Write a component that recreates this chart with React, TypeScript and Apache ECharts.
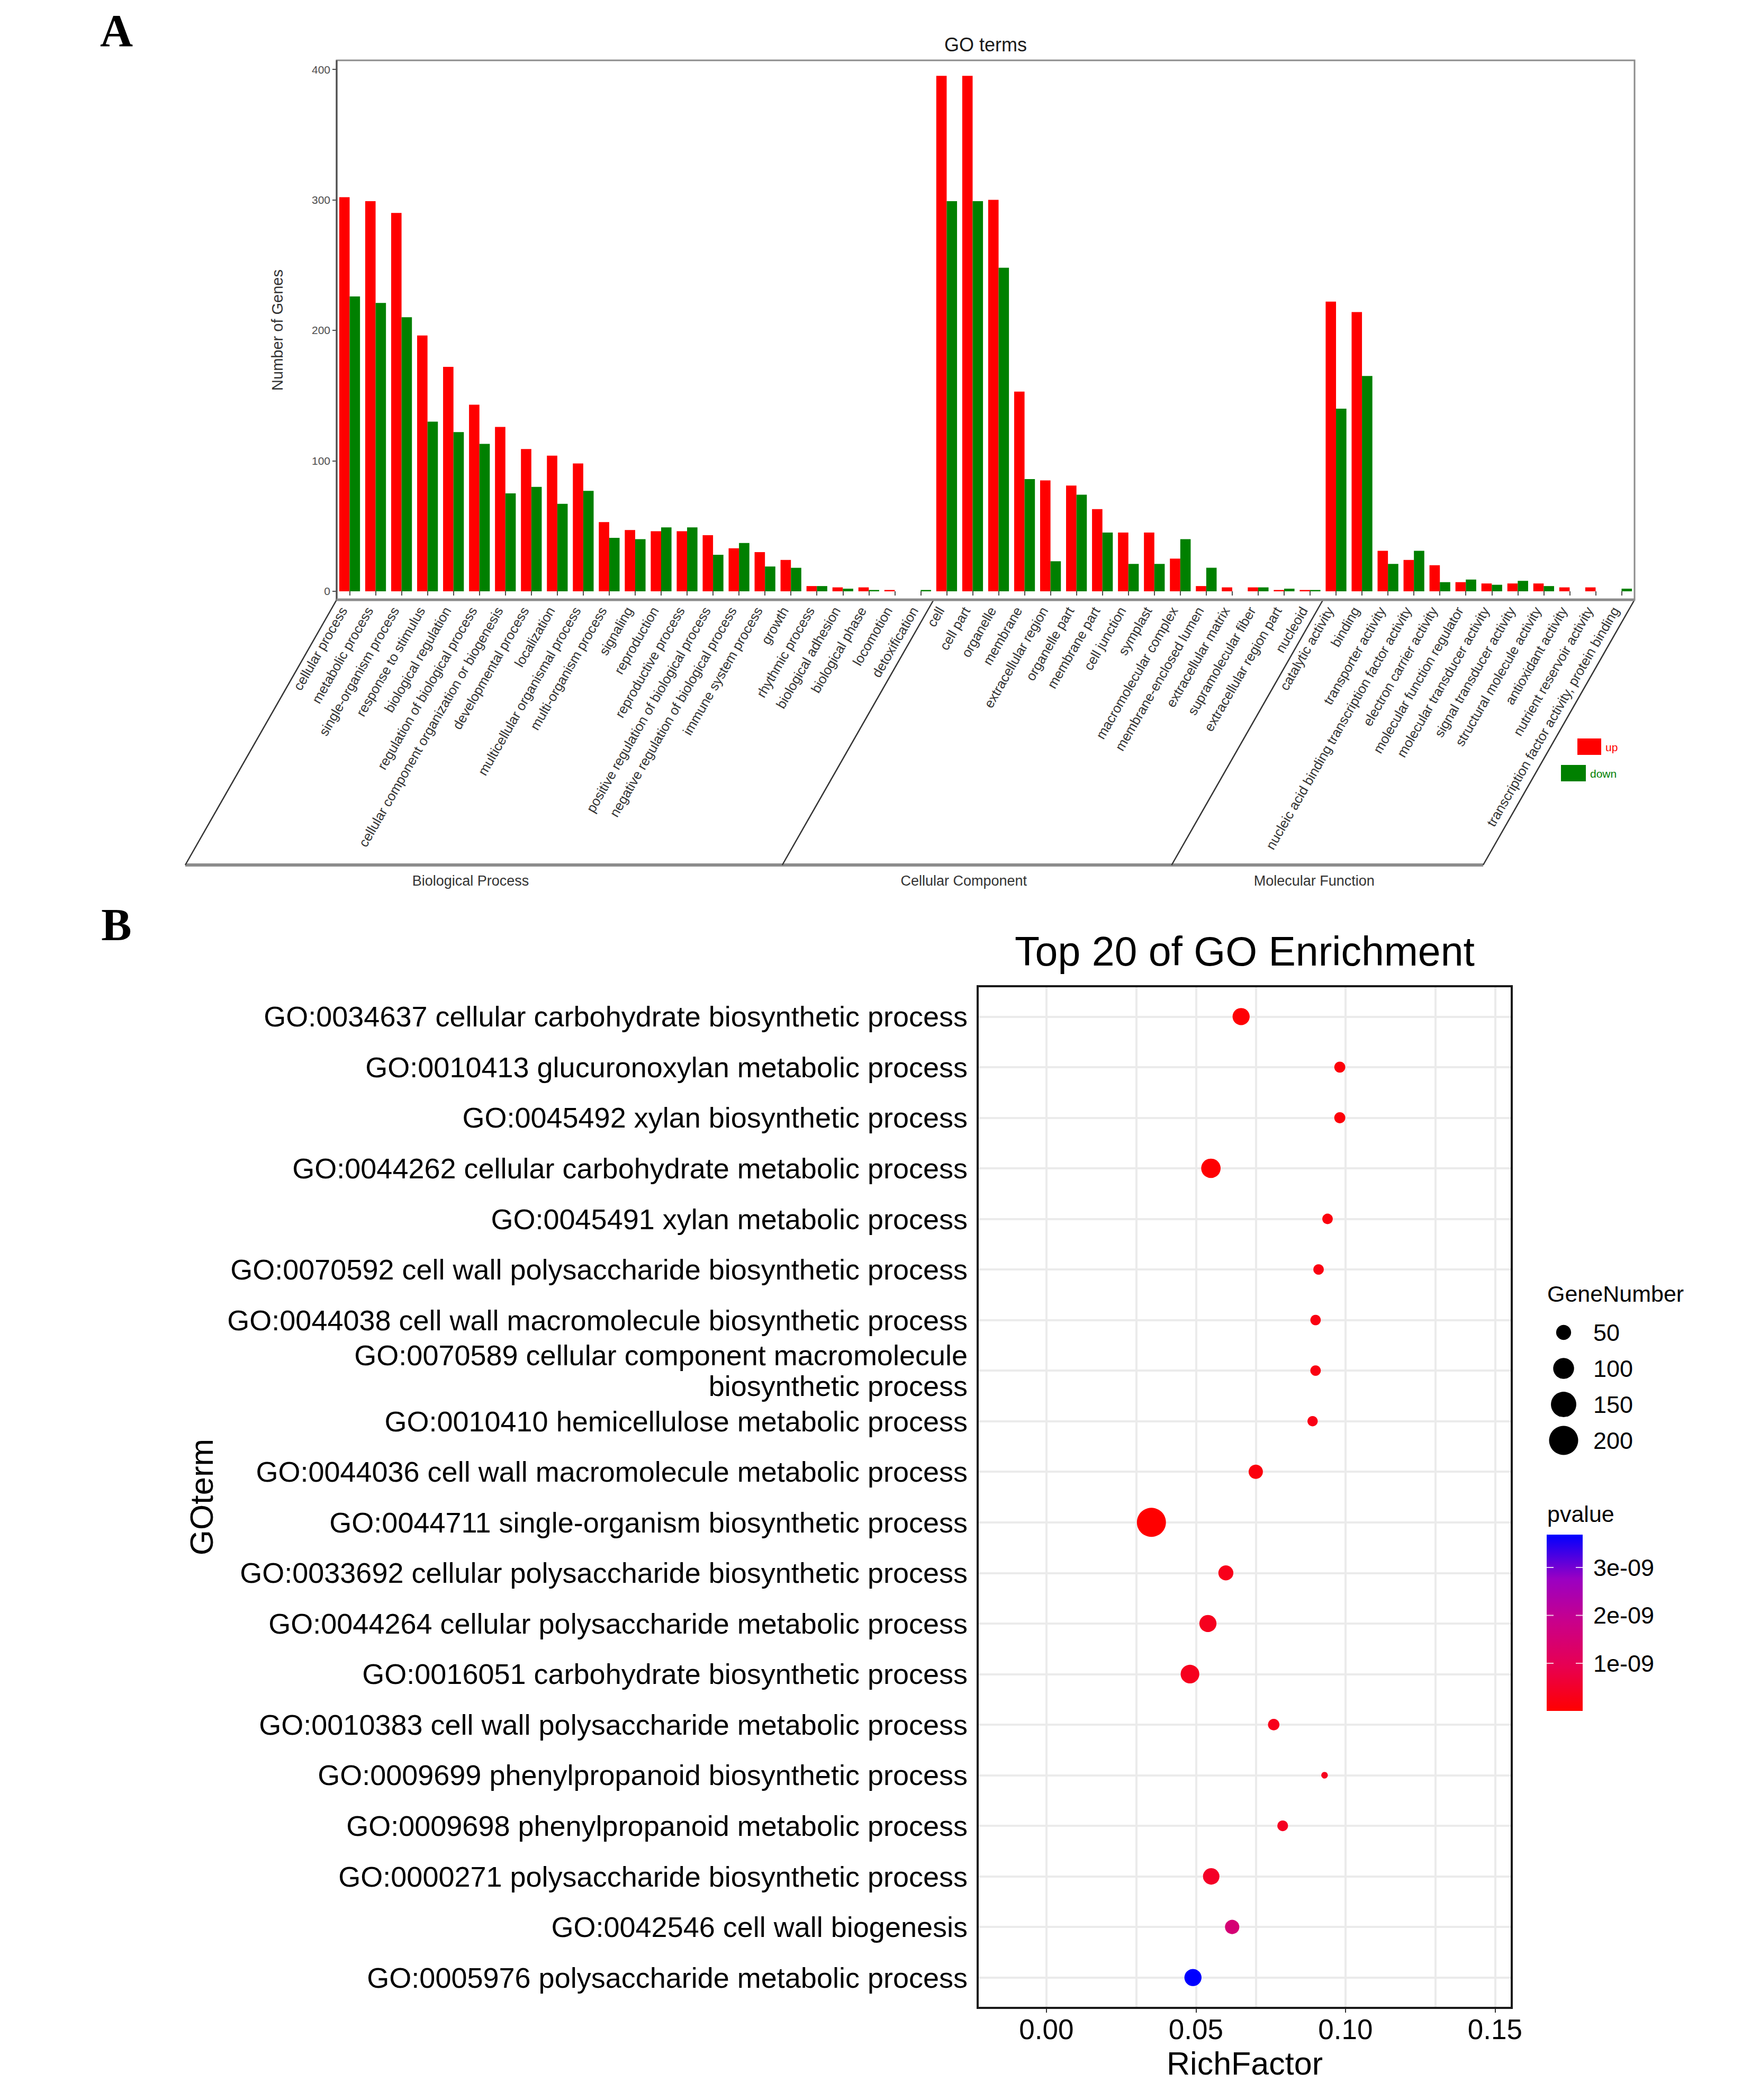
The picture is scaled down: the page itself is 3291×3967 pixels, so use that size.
import React, { useEffect, useRef } from "react";
import * as echarts from "echarts";

// ---------- panel A: GO classification ----------
const bpTerms = [
  "cellular process",
  "metabolic process",
  "single-organism process",
  "response to stimulus",
  "biological regulation",
  "regulation of biological process",
  "cellular component organization or biogenesis",
  "developmental process",
  "localization",
  "multicellular organismal process",
  "multi-organism process",
  "signaling",
  "reproduction",
  "reproductive process",
  "positive regulation of biological process",
  "negative regulation of biological process",
  "immune system process",
  "growth",
  "rhythmic process",
  "biological adhesion",
  "biological phase",
  "locomotion",
  "detoxification",
];
const bpUp = [302, 299, 290, 196, 172, 143, 126, 109, 104, 98, 53, 47, 46, 46, 43, 33, 30, 24, 4, 3, 3, 1, 0];
const bpDown = [226, 221, 210, 130, 122, 113, 75, 80, 67, 77, 41, 40, 49, 49, 28, 37, 19, 18, 4, 2, 1, 0, 1];

const ccTerms = [
  "cell",
  "cell part",
  "organelle",
  "membrane",
  "extracellular region",
  "organelle part",
  "membrane part",
  "cell junction",
  "symplast",
  "macromolecular complex",
  "membrane-enclosed lumen",
  "extracellular matrix",
  "supramolecular fiber",
  "extracellular region part",
  "nucleoid",
];
const ccUp = [395, 395, 300, 153, 85, 81, 63, 45, 45, 25, 4, 3, 3, 1, 1];
const ccDown = [299, 299, 248, 86, 23, 74, 45, 21, 21, 40, 18, 0, 3, 2, 1];

const mfTerms = [
  "catalytic activity",
  "binding",
  "transporter activity",
  "nucleic acid binding transcription factor activity",
  "electron carrier activity",
  "molecular function regulator",
  "molecular transducer activity",
  "signal transducer activity",
  "structural molecule activity",
  "antioxidant activity",
  "nutrient reservoir activity",
  "transcription factor activity, protein binding",
];
const mfUp = [222, 214, 31, 24, 20, 7, 6, 6, 6, 3, 3, 0];
const mfDown = [140, 165, 21, 31, 7, 9, 5, 8, 4, 0, 0, 2];

const groupNames = ["Biological Process", "Cellular Component", "Molecular Function"];
const countTicks = [0, 100, 200, 300, 400];

// ---------- panel B: top 20 enrichment ----------
const goTerms = [
  "GO:0034637 cellular carbohydrate biosynthetic process",
  "GO:0010413 glucuronoxylan metabolic process",
  "GO:0045492 xylan biosynthetic process",
  "GO:0044262 cellular carbohydrate metabolic process",
  "GO:0045491 xylan metabolic process",
  "GO:0070592 cell wall polysaccharide biosynthetic process",
  "GO:0044038 cell wall macromolecule biosynthetic process",
  "GO:0070589 cellular component macromolecule\nbiosynthetic process",
  "GO:0010410 hemicellulose metabolic process",
  "GO:0044036 cell wall macromolecule metabolic process",
  "GO:0044711 single-organism biosynthetic process",
  "GO:0033692 cellular polysaccharide biosynthetic process",
  "GO:0044264 cellular polysaccharide metabolic process",
  "GO:0016051 carbohydrate biosynthetic process",
  "GO:0010383 cell wall polysaccharide metabolic process",
  "GO:0009699 phenylpropanoid biosynthetic process",
  "GO:0009698 phenylpropanoid metabolic process",
  "GO:0000271 polysaccharide biosynthetic process",
  "GO:0042546 cell wall biogenesis",
  "GO:0005976 polysaccharide metabolic process",
];
const richFactor = [
  0.0651, 0.0981, 0.0981, 0.055, 0.094, 0.091, 0.09, 0.09, 0.089, 0.07, 0.0351, 0.06, 0.054, 0.048, 0.076,
  0.093, 0.079, 0.0551, 0.0621, 0.049,
];
const geneNumber = [66, 26, 26, 86, 23, 23, 23, 23, 22, 45, 200, 50, 66, 79, 28, 8, 24, 61, 45, 66];
const pValue = [
  0.05e-9, 0.1e-9, 0.1e-9, 0.03e-9, 0.15e-9, 0.2e-9, 0.2e-9, 0.2e-9, 0.25e-9, 0.15e-9, 0.006e-9, 0.3e-9,
  0.35e-9, 0.35e-9, 0.3e-9, 0.35e-9, 0.4e-9, 0.45e-9, 1.5e-9, 3.685e-9,
];
const richTicks = [0, 0.05, 0.1, 0.15];
const richGrid = [0, 0.025, 0.05, 0.075, 0.1, 0.125, 0.15];
const sizeBreaks = [50, 100, 150, 200];
const pBreaks = [1e-9, 2e-9, 3e-9];

const W = 3291;
const H = 3967;
const SANS = '"Liberation Sans", Arial, Helvetica, sans-serif';
const SERIF = '"Liberation Serif", "DejaVu Serif", "Times New Roman", serif';
// red -> blue, interpolated in Lab like ggplot's gradient
const P_COLORS = ["#ff0000", "#e80050", "#ca0089", "#9a00c3", "#0000ff"];

const pointSize = (n: number) => 2 * (1.88 * Math.sqrt(n) + 0.9);

const App = () => {
  const chartRef = useRef<HTMLDivElement>(null);

  useEffect(() => {
    if (!chartRef.current) return;
    document.body.style.margin = "0";

    const chart = echarts.init(chartRef.current, null, { renderer: "svg" });

    const categories = [...bpTerms, ...ccTerms, ...mfTerms];
    const upValues = [...bpUp, ...ccUp, ...mfUp];
    const downValues = [...bpDown, ...ccDown, ...mfDown];

    // panel A box
    const aL = 636, aT = 114, aR = 3088, aB = 1133;
    const skewY = 1634, skewDx = 286;
    const catW = (aR - aL) / categories.length;
    const bounds = [0, bpTerms.length, bpTerms.length + ccTerms.length, categories.length];
    const edgeX = bounds.map((b) => aL + b * catW);

    // panel B box
    const bL = 1847, bT = 1863, bR = 2856, bB = 3793;

    const pMin = Math.min(...pValue);
    const pMax = Math.max(...pValue);
    const barTop = 2899, barBottom = 3232, barX = 2922, barW = 68;
    const pToY = (p: number) => barBottom - ((p - pMin) / (pMax - pMin)) * (barBottom - barTop);

    const graphics: any[] = [
      { type: "text", x: 220, y: 58, style: { text: "A", fontSize: 86, fontWeight: "bold", fontFamily: SERIF, fill: "#000", align: "center", verticalAlign: "middle" } },
      { type: "text", x: 220, y: 1747, style: { text: "B", fontSize: 86, fontWeight: "bold", fontFamily: SERIF, fill: "#000", align: "center", verticalAlign: "middle" } },
      { type: "text", x: (aL + aR) / 2, y: 84, style: { text: "GO terms", fontSize: 36, fontFamily: SANS, fill: "#1a1a1a", align: "center", verticalAlign: "middle" } },
      { type: "text", x: 524, y: (aT + aB) / 2, rotation: Math.PI / 2, style: { text: "Number of Genes", fontSize: 29, fontFamily: SANS, fill: "#333", align: "center", verticalAlign: "middle" } },
      { type: "rect", z: 50, shape: { x: aL, y: aT, width: aR - aL, height: aB - aT }, style: { fill: "none", stroke: "#8c8c8c", lineWidth: 3 } },
      { type: "line", z: 51, shape: { x1: aL, y1: aT, x2: aL, y2: aB }, style: { stroke: "#4d4d4d", lineWidth: 3 } },
      { type: "line", z: 51, shape: { x1: aL, y1: aB, x2: aR, y2: aB }, style: { stroke: "#8c8c8c", lineWidth: 5 } },
      { type: "line", shape: { x1: edgeX[0] - skewDx, y1: skewY, x2: edgeX[3] - skewDx, y2: skewY }, style: { stroke: "#8c8c8c", lineWidth: 6 } },
      ...edgeX.map((x) => ({ type: "line", shape: { x1: x, y1: aB, x2: x - skewDx, y2: skewY }, style: { stroke: "#333", lineWidth: 2.5 } })),
      ...groupNames.map((name, i) => ({
        type: "text",
        x: (edgeX[i] + edgeX[i + 1]) / 2 - skewDx - 25,
        y: 1664,
        style: { text: name, fontSize: 27, fontFamily: SANS, fill: "#333", align: "center", verticalAlign: "middle" },
      })),
      { type: "rect", shape: { x: 2980, y: 1395, width: 45, height: 31 }, style: { fill: "#ff0000" } },
      { type: "text", x: 3033, y: 1411, style: { text: "up", fontSize: 21, fontFamily: SANS, fill: "#ff0000", verticalAlign: "middle" } },
      { type: "rect", shape: { x: 2949, y: 1445, width: 47, height: 31 }, style: { fill: "#008000" } },
      { type: "text", x: 3004, y: 1461, style: { text: "down", fontSize: 21, fontFamily: SANS, fill: "#008000", verticalAlign: "middle" } },

      { type: "text", x: (bL + bR) / 2, y: 1797, style: { text: "Top 20 of GO Enrichment", fontSize: 77, fontFamily: SANS, fill: "#000", align: "center", verticalAlign: "middle" } },
      { type: "text", x: 380, y: (bT + bB) / 2, rotation: Math.PI / 2, style: { text: "GOterm", fontSize: 62, fontFamily: SANS, fill: "#000", align: "center", verticalAlign: "middle" } },
      { type: "text", x: (bL + bR) / 2, y: 3898, style: { text: "RichFactor", fontSize: 61, fontFamily: SANS, fill: "#000", align: "center", verticalAlign: "middle" } },
      { type: "rect", z: 50, shape: { x: bL, y: bT, width: bR - bL, height: bB - bT }, style: { fill: "none", stroke: "#1a1a1a", lineWidth: 4 } },

      { type: "text", x: 2923, y: 2444, style: { text: "GeneNumber", fontSize: 43, fontFamily: SANS, fill: "#000", verticalAlign: "middle" } },
      ...sizeBreaks.flatMap((n, i) => [
        { type: "circle", shape: { cx: 2954, cy: 2517 + i * 68, r: pointSize(n) / 2 }, style: { fill: "#000" } },
        { type: "text", x: 3010, y: 2517 + i * 68, style: { text: String(n), fontSize: 45, fontFamily: SANS, fill: "#000", verticalAlign: "middle" } },
      ]),
      { type: "text", x: 2923, y: 2860, style: { text: "pvalue", fontSize: 43, fontFamily: SANS, fill: "#000", verticalAlign: "middle" } },
      {
        type: "rect",
        shape: { x: barX, y: barTop, width: barW, height: barBottom - barTop },
        style: {
          fill: new echarts.graphic.LinearGradient(
            0, 1, 0, 0,
            P_COLORS.map((c, i) => ({ offset: i / (P_COLORS.length - 1), color: c }))
          ),
        },
      },
      ...pBreaks.flatMap((p) => [
        { type: "line", shape: { x1: barX, y1: pToY(p), x2: barX + 13, y2: pToY(p) }, style: { stroke: "#ffffff", lineWidth: 2, opacity: 0.8 } },
        { type: "line", shape: { x1: barX + barW - 13, y1: pToY(p), x2: barX + barW, y2: pToY(p) }, style: { stroke: "#ffffff", lineWidth: 2, opacity: 0.8 } },
        {
          type: "text",
          x: 3010,
          y: pToY(p),
          style: { text: p.toExponential(0).replace("e-", "e-0"), fontSize: 45, fontFamily: SANS, fill: "#000", verticalAlign: "middle" },
        },
      ]),
    ];

    const option: any = {
      animation: false,
      backgroundColor: "#ffffff",
      textStyle: { fontFamily: SANS },
      grid: [
        { left: aL, top: aT, width: aR - aL, height: aB - aT },
        { left: bL, top: bT, width: bR - bL, height: bB - bT },
      ],
      xAxis: [
        {
          type: "category",
          gridIndex: 0,
          data: categories,
          axisLine: { show: false },
          axisTick: { show: true, alignWithLabel: true, length: 8, lineStyle: { color: "#4d4d4d", width: 2 } },
          axisLabel: {
            interval: 0,
            rotate: 60,
            margin: 22,
            fontSize: 25.5,
            color: "#333",
            fontFamily: SANS,
            verticalAlign: "bottom",
          },
          splitLine: { show: false },
        },
        {
          type: "value",
          gridIndex: 1,
          min: -0.023,
          max: 0.1556,
          axisLine: { show: false },
          axisTick: { show: true, customValues: richTicks, length: 9, lineStyle: { color: "#333", width: 2 } },
          axisLabel: { customValues: richTicks, formatter: (v: number) => v.toFixed(2), fontSize: 53, color: "#000", margin: 14, fontFamily: SANS },
          splitLine: { show: false },
        },
      ],
      yAxis: [
        {
          type: "value",
          gridIndex: 0,
          min: -6.5,
          max: 406.9,
          axisLine: { show: false },
          axisTick: { show: true, customValues: countTicks, length: 8, lineStyle: { color: "#4d4d4d", width: 2 } },
          axisLabel: { customValues: countTicks, fontSize: 21, color: "#4d4d4d", margin: 12, fontFamily: SANS },
          splitLine: { show: false },
        },
        {
          type: "value",
          gridIndex: 1,
          inverse: true,
          min: 0.4,
          max: goTerms.length + 0.6,
          axisLine: { show: false },
          axisTick: { show: true, customValues: goTerms.map((_, i) => i + 1), length: 10, lineStyle: { color: "#333", width: 2 } },
          axisLabel: {
            customValues: goTerms.map((_, i) => i + 1),
            formatter: (v: number) => goTerms[Math.round(v) - 1] ?? "",
            fontSize: 54,
            lineHeight: 58,
            color: "#000",
            margin: 19,
            align: "right",
            fontFamily: SANS,
          },
          splitLine: { show: false },
        },
      ],
      visualMap: {
        type: "continuous",
        show: false,
        seriesIndex: 2,
        dimension: 3,
        min: pMin,
        max: pMax,
        inRange: { color: P_COLORS },
      },
      series: [
        {
          name: "up",
          type: "bar",
          xAxisIndex: 0,
          yAxisIndex: 0,
          data: upValues,
          barWidth: "40%",
          barGap: "0%",
          itemStyle: { color: "#ff0000" },
          silent: true,
        },
        {
          name: "down",
          type: "bar",
          xAxisIndex: 0,
          yAxisIndex: 0,
          data: downValues,
          barWidth: "40%",
          barGap: "0%",
          itemStyle: { color: "#008000" },
          silent: true,
        },
        {
          name: "enrichment",
          type: "scatter",
          xAxisIndex: 1,
          yAxisIndex: 1,
          data: goTerms.map((_, i) => [richFactor[i], i + 1, geneNumber[i], pValue[i]]),
          symbolSize: (d: number[]) => pointSize(d[2]),
          itemStyle: { opacity: 1 },
          silent: true,
          markLine: {
            silent: true,
            z: 1,
            symbol: ["none", "none"],
            label: { show: false },
            lineStyle: { color: "#ebebeb", width: 4, type: "solid" },
            data: [
              ...richGrid.map((v) => ({ xAxis: v })),
              ...goTerms.map((_, i) => ({ yAxis: i + 1 })),
            ],
          },
        },
      ],
      graphic: graphics,
    };

    chart.setOption(option);

    return () => {
      chart.dispose();
    };
  }, []);

  return <div ref={chartRef} style={{ width: W, height: H, backgroundColor: "#ffffff" }} />;
};

export default App;
